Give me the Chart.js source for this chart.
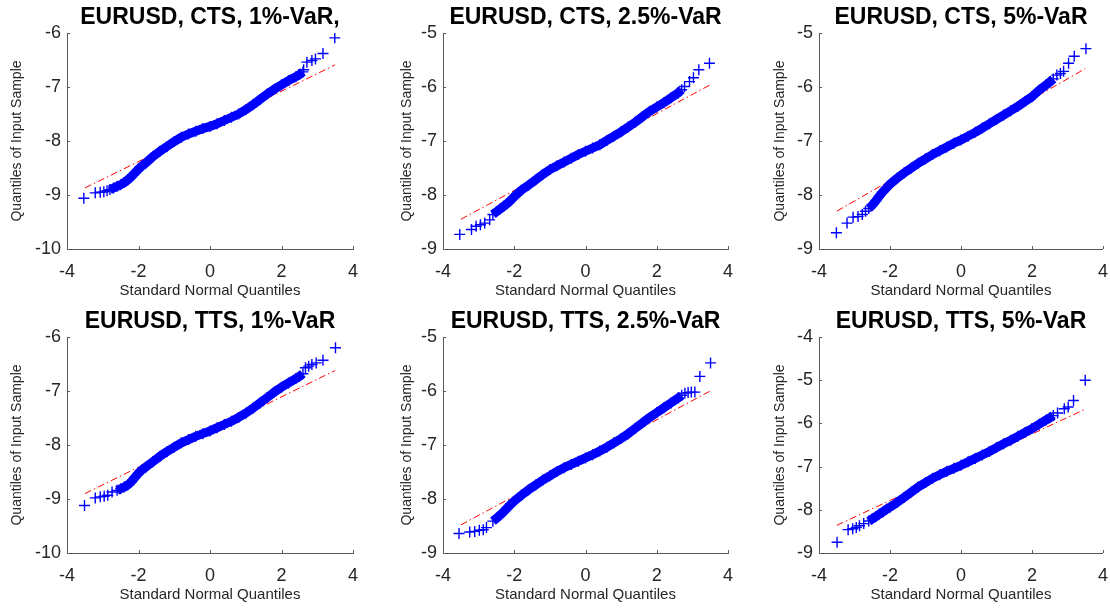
<!DOCTYPE html>
<html>
<head>
<meta charset="utf-8">
<script src="https://cdn.jsdelivr.net/npm/chart.js@4/dist/chart.umd.min.js"></script>
<style>
  html, body { margin: 0; padding: 0; background: #fff; overflow: hidden; width: 1110px; height: 608px; }
  .panel { position: absolute; width: 380px; height: 304px; }
</style>
</head>
<body>
<div class="panel" style="left:0px;top:0px"><canvas id="c0"></canvas></div>
<div class="panel" style="left:370px;top:0px"><canvas id="c1"></canvas></div>
<div class="panel" style="left:740px;top:0px"><canvas id="c2"></canvas></div>
<div class="panel" style="left:0px;top:304px"><canvas id="c3"></canvas></div>
<div class="panel" style="left:370px;top:304px"><canvas id="c4"></canvas></div>
<div class="panel" style="left:740px;top:304px"><canvas id="c5"></canvas></div>
<script>
// ---- panel titles and axis labels ----
const titles = [
  'EURUSD, CTS, 1%-VaR,', 'EURUSD, CTS, 2.5%-VaR', 'EURUSD, CTS, 5%-VaR',
  'EURUSD, TTS, 1%-VaR', 'EURUSD, TTS, 2.5%-VaR', 'EURUSD, TTS, 5%-VaR'
];
const xLabel = 'Standard Normal Quantiles';
const yLabel = 'Quantiles of Input Sample';

// ---- axis ranges / ticks ----
const xTickMin = -4, xTickMax = 4, xTickStep = 2;
const yMins = [-10, -9, -9, -10, -9, -9];
const yMaxs = [-6, -5, -5, -6, -5, -4];
const yTickStep = 1;

// ---- standard normal quantiles of the dense central part ----
const bodyX_a = [-2.8,-2.7,-2.6,-2.5,-2.4,-2.3,-2.2,-2.1,-2.0,-1.9,-1.8,-1.6,-1.4,-1.2,-1.0,-0.8,-0.6,-0.4,-0.2,0,0.2,0.4,0.6,0.8,1.0,1.2,1.4,1.6,1.8,2.0,2.2,2.4,2.5,2.6];
const bodyX_b = [-2.6,-2.5,-2.4,-2.3,-2.2,-2.1,-2.0,-1.8,-1.6,-1.4,-1.2,-1.0,-0.8,-0.6,-0.4,-0.2,0,0.2,0.4,0.6,0.8,1.0,1.2,1.4,1.6,1.8,2.0,2.2,2.4,2.6,2.7];
const bodyX_c = [-2.6,-2.5,-2.4,-2.3,-2.2,-2.1,-2.0,-1.8,-1.6,-1.4,-1.2,-1.0,-0.8,-0.6,-0.4,-0.2,0,0.2,0.4,0.6,0.8,1.0,1.2,1.4,1.6,1.8,2.0,2.2,2.4,2.5,2.6];
const bodyX_d = [-2.6,-2.5,-2.4,-2.3,-2.2,-2.1,-2.0,-1.9,-1.8,-1.6,-1.4,-1.2,-1.0,-0.8,-0.6,-0.4,-0.2,0,0.2,0.4,0.6,0.8,1.0,1.2,1.4,1.6,1.8,2.0,2.2,2.4,2.5,2.6];

// ---- sample quantiles (log VaR) of the central part ----
const bodyY_cts1  = [-8.90,-8.87,-8.84,-8.81,-8.77,-8.72,-8.66,-8.59,-8.52,-8.46,-8.41,-8.29,-8.19,-8.10,-8.01,-7.93,-7.87,-7.82,-7.77,-7.73,-7.68,-7.62,-7.56,-7.50,-7.42,-7.33,-7.23,-7.13,-7.04,-6.96,-6.88,-6.81,-6.77,-6.72];
const bodyY_cts25 = [-8.36,-8.31,-8.26,-8.21,-8.16,-8.10,-8.03,-7.91,-7.82,-7.72,-7.62,-7.53,-7.46,-7.39,-7.32,-7.25,-7.19,-7.13,-7.07,-6.99,-6.91,-6.83,-6.74,-6.65,-6.55,-6.45,-6.37,-6.29,-6.20,-6.11,-6.05];
const bodyY_cts5  = [-8.25,-8.19,-8.11,-8.02,-7.94,-7.87,-7.80,-7.69,-7.59,-7.50,-7.41,-7.33,-7.25,-7.18,-7.11,-7.04,-6.98,-6.91,-6.84,-6.76,-6.68,-6.60,-6.52,-6.44,-6.36,-6.27,-6.18,-6.06,-5.96,-5.91,-5.85];
const bodyY_tts1  = [-8.84,-8.81,-8.78,-8.74,-8.68,-8.60,-8.52,-8.46,-8.41,-8.31,-8.21,-8.12,-8.04,-7.96,-7.90,-7.84,-7.79,-7.74,-7.68,-7.62,-7.56,-7.49,-7.41,-7.32,-7.22,-7.12,-7.02,-6.93,-6.85,-6.77,-6.73,-6.68];
const bodyY_tts25 = [-8.41,-8.36,-8.30,-8.24,-8.17,-8.10,-8.04,-7.93,-7.83,-7.74,-7.65,-7.57,-7.49,-7.42,-7.36,-7.30,-7.24,-7.18,-7.11,-7.04,-6.96,-6.88,-6.79,-6.69,-6.59,-6.49,-6.40,-6.31,-6.22,-6.13,-6.08];
const bodyY_tts5  = [-8.26,-8.21,-8.16,-8.10,-8.05,-7.99,-7.94,-7.83,-7.71,-7.59,-7.47,-7.37,-7.27,-7.19,-7.11,-7.04,-6.97,-6.89,-6.81,-6.73,-6.65,-6.56,-6.47,-6.39,-6.30,-6.21,-6.12,-6.02,-5.92,-5.87,-5.82];

// ---- individual tail observations ----
const tailX_cts1  = [-3.53,-3.21,-3.07,-2.97,-2.88, 2.62,2.71,2.85,2.95,3.16,3.49];
const tailY_cts1  = [-9.06,-8.96,-8.95,-8.94,-8.92, -6.68,-6.54,-6.51,-6.48,-6.38,-6.09];
const tailX_cts25 = [-3.53,-3.20,-3.07,-2.95,-2.83,-2.69, 2.78,2.92,3.03,3.18,3.48];
const tailY_cts25 = [-8.73,-8.64,-8.58,-8.55,-8.52,-8.46, -5.99,-5.90,-5.83,-5.68,-5.56];
const tailX_cts5  = [-3.51,-3.21,-3.04,-2.90,-2.78,-2.69, 2.70,2.80,2.89,3.03,3.19,3.52];
const tailY_cts5  = [-8.70,-8.52,-8.41,-8.40,-8.36,-8.30, -5.78,-5.75,-5.71,-5.56,-5.43,-5.29];
const tailX_tts1  = [-3.51,-3.21,-3.07,-2.96,-2.86,-2.74, 2.67,2.76,2.85,2.97,3.16,3.51];
const tailY_tts1  = [-9.12,-8.98,-8.96,-8.95,-8.93,-8.87, -6.57,-6.54,-6.51,-6.48,-6.43,-6.20];
const tailX_tts25 = [-3.55,-3.25,-3.11,-2.98,-2.87,-2.78, 2.79,2.88,2.97,3.07,3.21,3.51];
const tailY_tts25 = [-8.64,-8.61,-8.60,-8.58,-8.57,-8.53, -6.04,-6.03,-6.02,-6.02,-5.73,-5.48];
const tailX_tts5  = [-3.49,-3.18,-3.05,-2.95,-2.86,-2.74, 2.72,2.91,3.02,3.17,3.50];
const tailY_tts5  = [-8.75,-8.46,-8.44,-8.41,-8.37,-8.32, -5.76,-5.66,-5.62,-5.47,-5.00];

// ---- reference (quartile) line end points ----
const refX = [-3.5, 3.5];
const refY_cts1  = [-8.87, -6.59];
const refY_cts25 = [-8.45, -5.96];
const refY_cts5  = [-8.30, -5.66];
const refY_tts1  = [-8.90, -6.62];
const refY_tts25 = [-8.48, -6.00];
const refY_tts5  = [-8.36, -5.67];

const panels = [
  { bx: bodyX_a, by: bodyY_cts1,  tx: tailX_cts1,  ty: tailY_cts1,  ry: refY_cts1 },
  { bx: bodyX_b, by: bodyY_cts25, tx: tailX_cts25, ty: tailY_cts25, ry: refY_cts25 },
  { bx: bodyX_c, by: bodyY_cts5,  tx: tailX_cts5,  ty: tailY_cts5,  ry: refY_cts5 },
  { bx: bodyX_d, by: bodyY_tts1,  tx: tailX_tts1,  ty: tailY_tts1,  ry: refY_tts1 },
  { bx: bodyX_b, by: bodyY_tts25, tx: tailX_tts25, ty: tailY_tts25, ry: refY_tts25 },
  { bx: bodyX_c, by: bodyY_tts5,  tx: tailX_tts5,  ty: tailY_tts5,  ry: refY_tts5 }
];

// ---- layout of each subplot inside its 380x304 canvas ----
const yAxisWidth = [67, 73, 79, 67, 73, 79];
const rightPad   = [27, 22, 15, 27, 22, 15];
const yTitlePad  = [8.3, 28.3, 31.6, 8.3, 28.3, 31.6];

const FONT = "'Liberation Sans', Arial, Helvetica, sans-serif";
const AXIS_COLOR = '#5a5a5a';
const TEXT_COLOR = '#262626';
const BLUE = '#0000ff';

const toPts = (xs, ys) => xs.map((x, i) => ({ x: x, y: ys[i] }));

// short tick marks pointing into the axes box
const inwardTicks = {
  id: 'inwardTicks',
  afterDraw(chart) {
    const { ctx, chartArea: a, scales } = chart;
    const sx = scales.x, sy = scales.y;
    ctx.save();
    ctx.strokeStyle = AXIS_COLOR;
    ctx.lineWidth = 1;
    ctx.beginPath();
    sx.ticks.forEach(t => {
      const px = Math.round(sx.getPixelForValue(t.value)) + 0.5;
      ctx.moveTo(px, a.bottom); ctx.lineTo(px, a.bottom - 3);
    });
    sy.ticks.forEach(t => {
      const py = Math.round(sy.getPixelForValue(t.value)) + 0.5;
      ctx.moveTo(a.left, py); ctx.lineTo(a.left + 3, py);
    });
    ctx.stroke();
    ctx.restore();
  }
};

panels.forEach((p, i) => {
  new Chart(document.getElementById('c' + i), {
    type: 'scatter',
    data: {
      datasets: [
        {
          data: toPts(p.bx, p.by),
          showLine: true,
          borderColor: BLUE,
          borderWidth: 9,
          borderCapStyle: 'butt',
          borderJoinStyle: 'round',
          tension: 0,
          pointStyle: 'cross',
          pointRadius: 5.5,
          pointBorderWidth: 1.4,
          pointBorderColor: BLUE,
          pointBackgroundColor: BLUE
        },
        {
          data: toPts(p.tx, p.ty),
          showLine: false,
          pointStyle: 'cross',
          pointRadius: 5.5,
          pointBorderWidth: 1.4,
          pointBorderColor: BLUE,
          pointBackgroundColor: BLUE
        },
        {
          data: toPts(refX, p.ry),
          showLine: true,
          borderColor: '#ff0000',
          borderWidth: 1,
          borderDash: [7, 3, 1.5, 3],
          pointRadius: 0
        }
      ]
    },
    options: {
      responsive: true,
      maintainAspectRatio: false,
      animation: false,
      events: [],
      layout: { padding: { left: 0, top: 0, bottom: 0, right: rightPad[i] } },
      plugins: {
        legend: { display: false },
        tooltip: { enabled: false },
        title: {
          display: true,
          text: titles[i],
          fullSize: false,
          color: '#000',
          font: { family: FONT, size: 23, weight: 'bold', lineHeight: 1.2 },
          padding: { top: 4, bottom: 1.4 }
        }
      },
      scales: {
        x: {
          type: 'linear',
          min: xTickMin, max: xTickMax,
          grid: { display: false, drawTicks: false },
          border: { display: true, color: AXIS_COLOR, width: 1 },
          ticks: {
            stepSize: xTickStep,
            color: TEXT_COLOR,
            padding: 12,
            font: { family: FONT, size: 18 },
            maxRotation: 0
          },
          title: {
            display: true,
            text: xLabel,
            color: TEXT_COLOR,
            font: { family: FONT, size: 15 },
            padding: { top: 0, bottom: 4 }
          },
          afterFit(scale) { scale.height = 55; }
        },
        y: {
          type: 'linear',
          min: yMins[i], max: yMaxs[i],
          grid: { display: false, drawTicks: false },
          border: { display: true, color: AXIS_COLOR, width: 1 },
          ticks: {
            stepSize: yTickStep,
            color: TEXT_COLOR,
            padding: 6,
            font: { family: FONT, size: 18 }
          },
          title: {
            display: true,
            text: yLabel,
            color: TEXT_COLOR,
            font: { family: FONT, size: 14 },
            padding: { top: yTitlePad[i], bottom: 0 }
          },
          afterFit(scale) { scale.width = yAxisWidth[i]; }
        }
      }
    },
    plugins: [inwardTicks]
  });
});
</script>
</body>
</html>
